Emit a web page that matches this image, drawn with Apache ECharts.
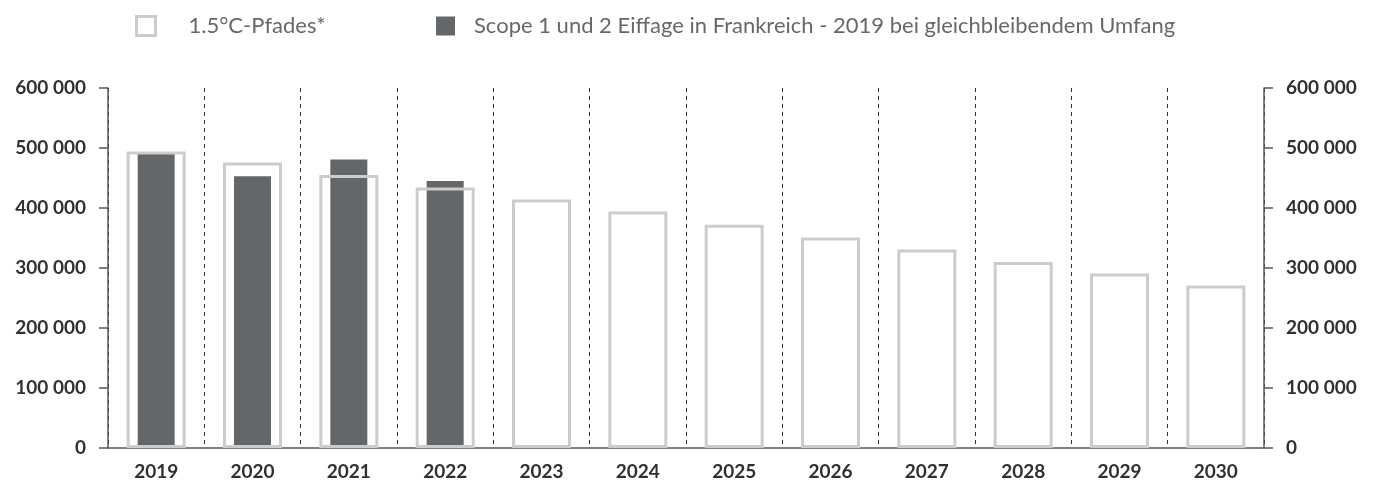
<!DOCTYPE html>
<html>
<head>
<meta charset="utf-8">
<script src="https://cdn.jsdelivr.net/npm/echarts@6/dist/echarts.min.js"></script>
<style>
  html, body { margin: 0; padding: 0; background: #fff; }
  #chart { width: 1386px; height: 485px; }
</style>
</head>
<body>
<div id="chart"></div>
<script>
// categories and values
var years = ["2019", "2020", "2021", "2022", "2023", "2024", "2025", "2026", "2027", "2028", "2029", "2030"];
var pathValues = [494000, 476000, 455000, 434000, 414000, 394000, 372000, 351000, 331000, 310000, 291000, 271000];
var scopeValues = [492000, 453000, 481000, 445000];
var yTicks = [0, 100000, 200000, 300000, 400000, 500000, 600000];
var legendNames = ["1.5°C-Pfades*", "Scope 1 und 2 Eiffage in Frankreich - 2019 bei gleichbleibendem Umfang"];

var FONT = "Lato";
var AXIS_COLOR = "#55585b";
var LABEL_COLOR = "#2e3134";
var OUTLINE = "#cccccc";
var DARK = "#63676a";

function fmt(v) {
  return String(v).replace(/\B(?=(\d{3})+(?!\d))/g, " ");
}

function yAxisCfg(pos) {
  return {
    type: "value",
    position: pos,
    min: yTicks[0],
    max: yTicks[yTicks.length - 1],
    interval: yTicks[1] - yTicks[0],
    axisLine: { show: true, lineStyle: { color: AXIS_COLOR, width: 1.5 } },
    axisTick: { show: true, length: 9, lineStyle: { color: AXIS_COLOR, width: 1.5 } },
    axisLabel: {
      margin: 22,
      color: LABEL_COLOR,
      fontFamily: FONT,
      fontWeight: "bold",
      fontSize: 19,
      formatter: fmt,
    },
    splitLine: { show: false },
  };
}

function legendCfg(left, name, style, gap) {
  return {
    top: 10,
    left: left,
    itemWidth: 19,
    itemHeight: 19,
    selectedMode: false,
    textStyle: {
      color: "#65686b",
      fontFamily: FONT,
      fontSize: 22,
      padding: [0, 0, 0, gap],
    },
    data: [{ name: name, icon: "rect", itemStyle: style }],
  };
}

var chart = echarts.init(document.getElementById("chart"));
chart.setOption({
  animation: false,
  legend: [
    legendCfg(130, legendNames[0], { color: "#fff", borderColor: OUTLINE, borderWidth: 3 }, 28),
    legendCfg(431, legendNames[1], { color: DARK, borderWidth: 0 }, 14),
  ],
  grid: {
    left: 108,
    right: 122,
    top: 88,
    bottom: 37,
    containLabel: false,
  },
  xAxis: [
    {
      type: "category",
      data: years,
      axisLine: { show: true, lineStyle: { color: AXIS_COLOR, width: 1.5 } },
      axisTick: { show: false },
      axisLabel: {
        margin: 14,
        color: LABEL_COLOR,
        fontFamily: FONT,
        fontWeight: "bold",
        fontSize: 19,
      },
      splitLine: {
        show: true,
        lineStyle: { color: "#333", type: [4, 4], width: 1 },
      },
    },
    {
      // hidden twin axis so the narrow bar is centred on its own
      type: "category",
      data: years,
      show: false,
    },
  ],
  yAxis: [yAxisCfg("left"), yAxisCfg("right")],
  series: [
    {
      name: legendNames[0],
      type: "bar",
      data: pathValues,
      barWidth: 59,
      z: 3,
      itemStyle: { color: "rgba(0,0,0,0)", borderColor: OUTLINE, borderWidth: 3 },
    },
    {
      name: legendNames[1],
      type: "bar",
      xAxisIndex: 1,
      data: scopeValues,
      barWidth: 37,
      z: 2,
      itemStyle: { color: DARK },
    },
  ],
});
</script>
</body>
</html>
